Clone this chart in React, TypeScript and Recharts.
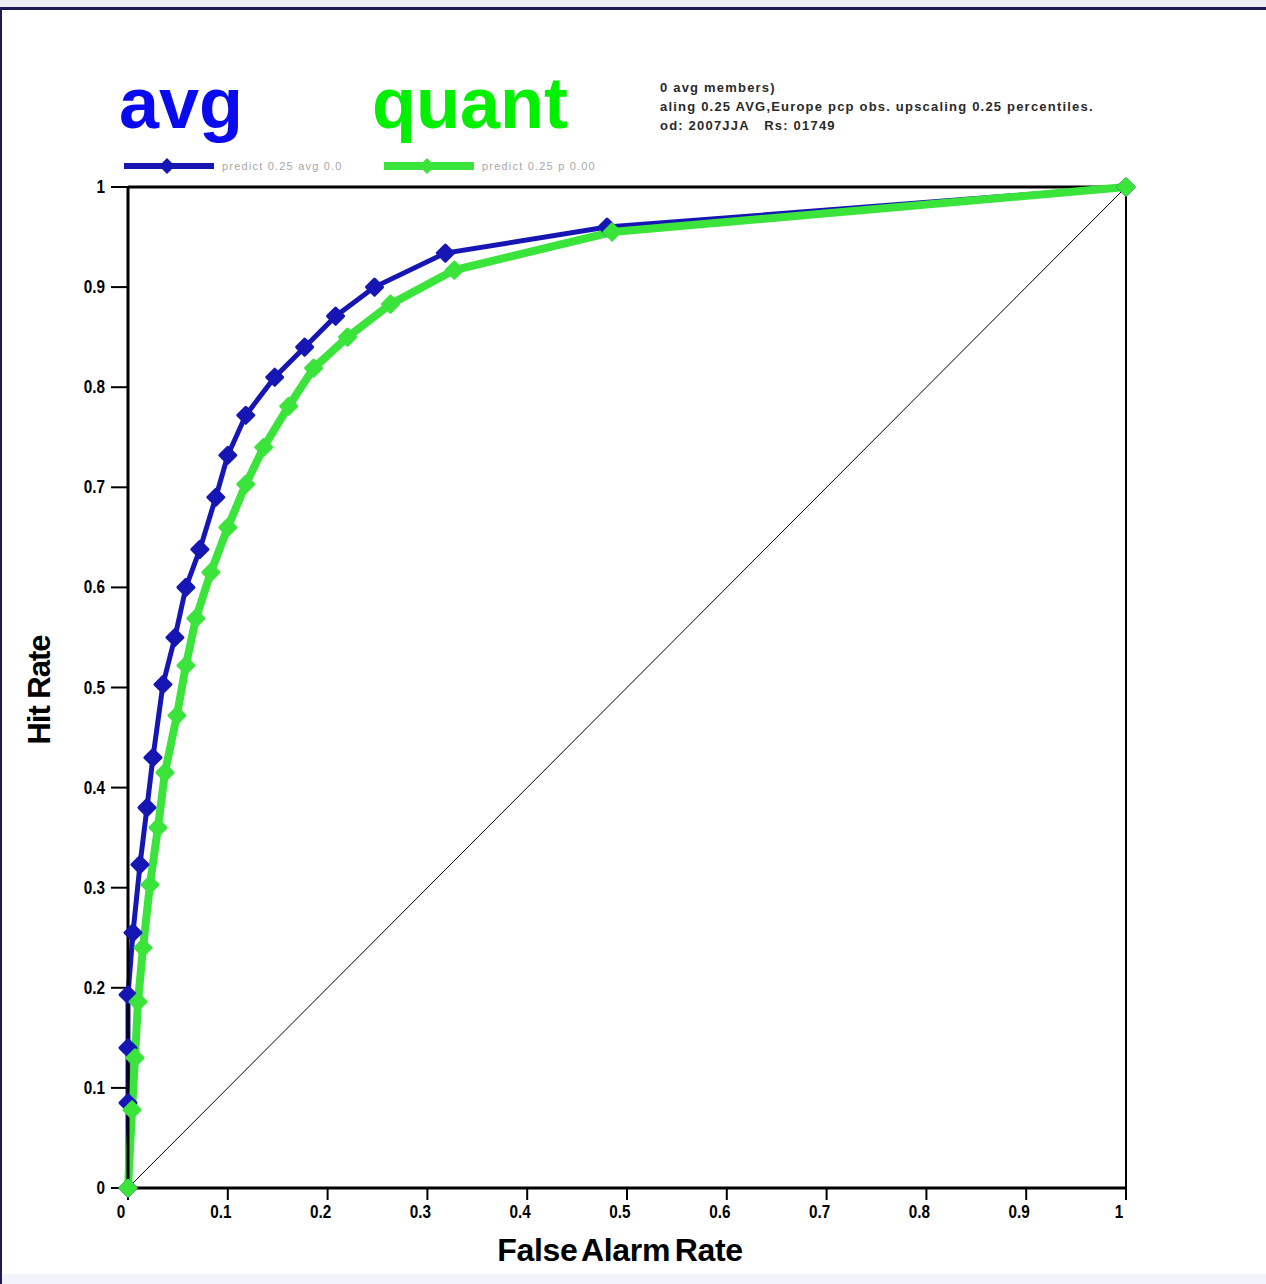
import { LineChart, Line, XAxis, YAxis, ReferenceLine } from "recharts";

const avgFar = [0, 0, 0, 0, 0.005, 0.012, 0.019, 0.025, 0.035, 0.047, 0.058, 0.072, 0.088, 0.1, 0.118, 0.147, 0.177, 0.208, 0.247, 0.318, 0.48, 1];
const avgHit = [0, 0.085, 0.14, 0.193, 0.255, 0.323, 0.38, 0.43, 0.503, 0.55, 0.6, 0.638, 0.69, 0.732, 0.772, 0.81, 0.84, 0.871, 0.9, 0.934, 0.96, 1];

const quantFar = [0, 0.004, 0.007, 0.01, 0.015, 0.022, 0.03, 0.037, 0.049, 0.058, 0.068, 0.083, 0.1, 0.118, 0.136, 0.161, 0.186, 0.22, 0.263, 0.327, 0.485, 1];
const quantHit = [0, 0.078, 0.13, 0.186, 0.24, 0.303, 0.36, 0.415, 0.472, 0.522, 0.569, 0.615, 0.66, 0.703, 0.74, 0.781, 0.819, 0.85, 0.883, 0.917, 0.955, 1];

const axisTicks = [0, 0.1, 0.2, 0.3, 0.4, 0.5, 0.6, 0.7, 0.8, 0.9, 1];

const avgData = avgFar.map((x, i) => ({ x, avg: avgHit[i] }));
const quantData = quantFar.map((x, i) => ({ x, quant: quantHit[i] }));

const BLUE = "#1616b4";
const GREEN = "#3be43b";
const tickFont = "'Liberation Sans', Arial, sans-serif";

const Diamond = (color: string, r: number) => (props: any) => {
  const { cx, cy, index } = props;
  if (cx == null || cy == null) return <g key={index} />;
  return (
    <polygon
      key={index}
      points={`${cx},${cy - r} ${cx + r},${cy} ${cx},${cy + r} ${cx - r},${cy}`}
      fill={color}
      stroke={color}
      strokeWidth={3}
      strokeLinejoin="round"
    />
  );
};

const fmt = (v: number) => (v === 0 ? "0" : v === 1 ? "1" : String(v));

const XTick = (props: any) => {
  const { x, y, payload } = props;
  return (
    <text transform={`translate(${x - 7},${y + 16}) scale(0.85,1.05)`} textAnchor="middle" fill="#000" fontSize={18} fontWeight="bold" fontFamily={tickFont}>
      {fmt(payload.value)}
    </text>
  );
};

const YTick = (props: any) => {
  const { x, y, payload } = props;
  return (
    <text transform={`translate(${x - 1},${y + 6}) scale(0.85,1.05)`} textAnchor="end" fill="#000" fontSize={18} fontWeight="bold" fontFamily={tickFont}>
      {fmt(payload.value)}
    </text>
  );
};

const LegendSwatch = ({ color, width }: { color: string; width: number }) => (
  <svg width={96} height={20} style={{ display: "block" }}>
    <line x1={2} y1={10} x2={92} y2={10} stroke={color} strokeWidth={width} />
    <polygon points="45,2 53,10 45,18 37,10" fill={color} />
  </svg>
);

export default function App() {
  return (
    <div style={{ position: "absolute", left: 0, top: 0, width: 1266, height: 1284, background: "#ffffff", overflow: "hidden", fontFamily: "'Liberation Sans', Arial, sans-serif" }}>
      <div style={{ position: "absolute", left: 0, top: 0, width: 1266, height: 7, background: "#ededf8" }} />
      <div style={{ position: "absolute", left: 0, top: 7, width: 1266, height: 3, background: "#1c1c52" }} />
      <div style={{ position: "absolute", left: 0, top: 7, width: 2, height: 1277, background: "#1c1c52" }} />
      <div style={{ position: "absolute", left: 2, top: 1274, width: 1264, height: 10, background: "#f3f3fb" }} />

      <div style={{ position: "absolute", left: 119, top: 58, fontSize: 72, fontWeight: "bold", color: "#0a0aee", lineHeight: "90px" }}>avg</div>
      <div style={{ position: "absolute", left: 372, top: 58, fontSize: 72, fontWeight: "bold", color: "#00f000", lineHeight: "90px" }}>quant</div>

      <div style={{ position: "absolute", left: 660, top: 78, fontSize: 13, color: "#2a2a2a", lineHeight: "19px", fontWeight: "bold", letterSpacing: 1.2, fontFamily: tickFont }}>
        <div>0 avg members)</div>
        <div>aling 0.25 AVG,Europe pcp obs. upscaling 0.25 percentiles.</div>
        <div>od: 2007JJA&nbsp;&nbsp;&nbsp;Rs: 01749</div>
      </div>

      <div style={{ position: "absolute", left: 122, top: 156, display: "flex", alignItems: "center" }}>
        <LegendSwatch color={BLUE} width={6} />
        <span style={{ fontSize: 11, color: "#a8a8a8", marginLeft: 4, width: 160, letterSpacing: 1.2 }}>predict 0.25 avg 0.0</span>
        <LegendSwatch color={GREEN} width={8} />
        <span style={{ fontSize: 11, color: "#a8a8a8", marginLeft: 4, letterSpacing: 1.2 }}>predict 0.25 p 0.00</span>
      </div>

      <div style={{ position: "absolute", left: 0, top: 0 }}>
        <LineChart width={1266} height={1284} margin={{ top: 187, right: 140, bottom: 56, left: 0 }}>
          <XAxis
            type="number"
            dataKey="x"
            domain={[0, 1]}
            ticks={axisTicks}
            interval={0}
            allowDuplicatedCategory={false}
            axisLine={{ stroke: "#000", strokeWidth: 3 }}
            tickLine={{ stroke: "#000", strokeWidth: 2 }}
            tickSize={12}
            height={40}
            tick={<XTick />}
          />
          <YAxis
            type="number"
            domain={[0, 1]}
            ticks={axisTicks}
            interval={0}
            width={128}
            axisLine={{ stroke: "#000", strokeWidth: 3 }}
            tickLine={{ stroke: "#000", strokeWidth: 2 }}
            tickSize={17}
            tickMargin={5}
            tick={<YTick />}
          />
          <ReferenceLine y={1} stroke="#000" strokeWidth={3} />
          <ReferenceLine x={1} stroke="#000" strokeWidth={2} />
          <ReferenceLine segment={[{ x: 0, y: 0 }, { x: 1, y: 1 }]} stroke="#000" strokeWidth={1} />
          <Line
            data={avgData}
            dataKey="avg"
            type="linear"
            stroke={BLUE}
            strokeWidth={5}
            dot={Diamond(BLUE, 8)}
            activeDot={false}
            isAnimationActive={false}
          />
          <Line
            data={quantData}
            dataKey="quant"
            type="linear"
            stroke={GREEN}
            strokeWidth={8}
            dot={Diamond(GREEN, 8)}
            activeDot={false}
            isAnimationActive={false}
          />
        </LineChart>
      </div>

      <div style={{ position: "absolute", left: 40, top: 690, transform: "translate(-50%, -50%) rotate(-90deg)", fontSize: 31, fontWeight: "bold", whiteSpace: "nowrap", letterSpacing: -1 }}>
        Hit Rate
      </div>
      <div style={{ position: "absolute", left: 620, top: 1250, transform: "translate(-50%, -50%)", fontSize: 32, fontWeight: "bold", whiteSpace: "nowrap", letterSpacing: -0.3, wordSpacing: -4 }}>
        False Alarm Rate
      </div>
    </div>
  );
}
